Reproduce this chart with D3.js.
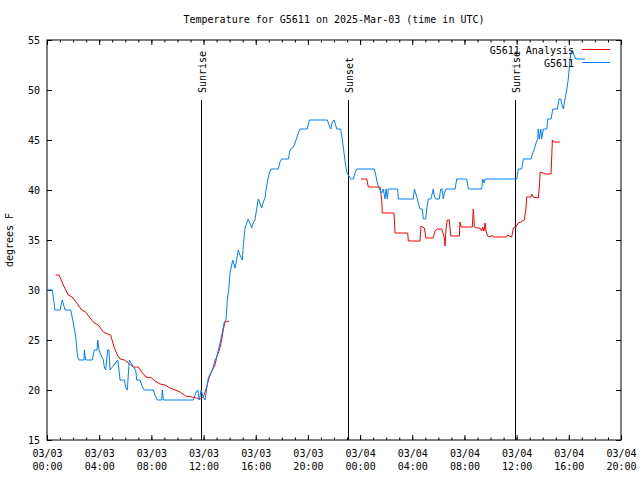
<!DOCTYPE html>
<html>
<head>
<meta charset="utf-8">
<script src="https://cdn.jsdelivr.net/npm/d3@7"></script>
<style>
  html, body { margin: 0; padding: 0; background: #fff; }
  svg { display: block; }
  text { font-family: "DejaVu Sans Mono", monospace; font-size: 10px; fill: #000; }
</style>
</head>
<body>
<svg id="chart" width="640" height="480"></svg>
<script>
// ---- data (hours since 2025-03-03 00:00 UTC, temperatures in °F) ----
const titleText = "Temperature for G5611 on 2025-Mar-03 (time in UTC)";
const yLabelText = "degrees F";
const yTickValues = [15, 20, 25, 30, 35, 40, 45, 50, 55];
const seriesNames = ["G5611 Analysis", "G5611"];

const analysisHours = [0.67,0.92,1.25,1.63,1.94,2.28,2.66,2.97,3.30,3.63,3.93,4.32,4.65,4.88,5.14,5.39,5.60,5.93,6.23,6.62,7.00,7.26,7.59,8.03,8.28,8.66,9.05,9.43,9.81,10.20,10.63,11.09,11.48,11.73,11.98,12.11,12.24,12.42,12.67,12.88,13.01,13.21,13.39,13.51,13.65,13.95,
  19.00,
  24.07,24.51,24.63,25.53,25.66,25.70,26.60,26.68,27.65,27.70,28.59,28.67,28.80,28.92,29.05,29.61,29.74,29.92,30.26,30.46,30.51,30.59,30.69,30.84,30.95,31.61,31.66,31.74,32.60,32.68,32.76,32.94,33.19,33.32,33.40,33.50,33.58,33.65,33.78,33.96,34.09,34.21,35.19,35.29,35.62,35.75,35.95,36.13,36.31,36.59,36.72,36.77,37.08,37.16,37.28,37.66,37.74,37.81,38.23,38.64,38.69,38.74,38.87,39.33];
const analysisTemps = [31.5,31.5,30.5,29.5,29.3,28.7,28.0,27.8,27.2,26.7,26.5,25.8,25.6,25.5,24.3,23.5,23.1,23.0,22.7,22.3,22.3,21.8,21.3,21.2,20.9,20.6,20.5,20.2,20.0,19.8,19.4,19.3,19.2,19.1,19.3,19.8,20.3,21.2,22.0,22.5,23.3,24.0,25.0,26.0,26.8,26.9,
  null,
  41.1,41.1,40.3,40.3,39.0,37.7,37.7,35.7,35.7,34.9,34.9,36.4,36.3,36.2,35.2,35.2,35.9,36.1,36.1,35.2,34.4,36.2,37.0,37.0,35.4,35.4,36.8,36.3,36.3,38.1,36.3,36.2,36.2,35.9,36.3,35.9,36.7,35.9,35.4,35.3,35.5,35.3,35.3,35.5,35.3,36.2,36.3,36.7,36.8,37.0,38.2,39.3,39.3,39.6,39.3,39.2,40.3,41.8,41.6,41.6,43.3,45.0,44.8,44.8];

const obsHours = [0.00,0.41,0.61,1.00,1.17,1.38,1.82,2.02,2.20,2.35,2.45,2.84,2.86,2.97,3.47,3.63,3.83,3.89,3.99,4.14,4.32,4.39,4.50,4.65,4.75,4.83,5.01,5.42,5.52,5.60,5.93,6.03,6.16,6.23,6.31,6.62,6.80,6.88,7.13,7.31,7.46,8.15,8.28,8.46,8.79,8.84,8.92,11.22,11.40,11.55,11.68,11.81,11.92,12.11,12.36,12.55,12.67,12.88,13.01,13.32,13.47,13.59,13.72,13.82,13.95,14.03,14.16,14.24,14.41,14.54,14.66,14.79,14.97,15.05,15.18,15.31,15.43,15.69,15.81,15.94,16.08,16.20,16.46,16.58,16.71,16.79,16.92,17.04,17.17,17.73,17.86,17.99,18.50,18.63,18.83,18.96,19.14,19.26,19.39,19.95,20.11,21.49,21.62,21.75,21.87,22.00,22.13,22.21,22.51,22.64,22.77,22.87,22.97,23.10,23.28,23.48,23.61,23.74,25.09,25.20,25.32,25.47,25.66,25.78,25.91,25.99,26.09,26.16,26.88,26.93,28.08,28.16,28.26,28.39,28.46,28.59,28.77,28.85,29.03,29.11,29.23,29.42,29.54,29.61,29.69,29.80,30.07,30.18,30.28,30.38,30.46,30.59,31.28,31.41,32.17,32.30,33.32,33.40,33.50,33.58,36.01,36.13,36.39,36.51,37.10,37.23,37.36,37.49,37.62,37.66,37.74,37.85,37.92,38.05,38.31,38.39,38.64,38.77,39.12,39.25,39.38,39.48,39.58,39.71,39.84,39.96,40.09,40.17,40.27,40.40,40.53,41.24];
const obsTemps = [30.0,30.0,28.0,28.0,29.0,28.0,28.0,26.7,25.3,23.3,23.0,23.0,24.0,23.0,23.0,24.0,24.0,25.0,24.0,23.5,23.0,22.3,22.0,24.0,24.0,22.0,22.3,23.0,22.0,21.0,21.0,20.3,20.0,21.5,23.0,22.3,22.0,21.0,21.0,20.3,20.0,20.0,19.5,19.0,19.0,20.0,19.0,19.0,19.7,20.0,19.0,20.0,19.5,19.0,21.2,21.7,22.0,23.0,23.3,25.0,26.0,26.8,27.0,29.0,30.3,31.7,32.5,33.0,32.2,33.0,34.0,33.5,33.0,34.5,36.2,36.7,37.1,36.2,36.7,37.0,38.2,39.1,38.2,38.8,39.2,40.0,41.0,41.7,42.1,42.1,42.8,43.1,43.1,44.0,44.2,44.5,45.2,45.7,46.1,46.1,47.0,47.0,46.5,46.1,46.8,47.0,46.5,46.1,46.1,45.0,43.7,42.7,41.8,41.5,41.1,41.1,41.7,42.1,42.1,41.5,40.7,40.1,39.7,40.1,39.1,40.1,39.1,40.1,40.1,39.1,39.1,40.1,39.7,39.1,38.7,38.1,38.1,37.1,37.1,38.1,39.1,39.1,39.7,40.1,39.4,39.1,39.1,40.1,40.1,39.1,39.7,40.1,40.1,41.1,41.1,40.1,40.1,41.1,40.7,41.1,41.1,42.1,42.1,43.1,43.1,43.7,44.1,44.7,45.1,46.1,45.1,46.1,45.1,46.1,46.1,47.1,47.1,48.1,48.1,49.1,49.1,48.5,48.1,49.1,50.0,51.1,53.0,53.7,54.0,53.5,53.1,53.1];

const sunHours = [11.81, 23.07, 35.87];
const sunLabels = ["Sunrise", "Sunset", "Sunrise"];

// ---- layout ----
const startMs = Date.UTC(2025, 2, 3, 0, 0);
const endMs = Date.UTC(2025, 2, 4, 20, 0);
const toDate = h => new Date(startMs + h * 3600e3);
const L = 47, R = 621, T = 40, B = 440;

const svg = d3.select("#chart");
const x = d3.scaleUtc().domain([new Date(startMs), new Date(endMs)]).range([L, R]);
const y = d3.scaleLinear().domain([15, 55]).range([B, T]);

const majorTicks = d3.utcHour.every(4).range(new Date(startMs), new Date(endMs + 1));
const minorTicks = d3.utcHour.every(1).range(new Date(startMs), new Date(endMs + 1));
const fmtDay = d3.utcFormat("%m/%d");
const fmtHour = d3.utcFormat("%H:%M");

function styleAxis(g) {
  g.select(".domain").remove();
  g.selectAll("line").attr("stroke", "#000").attr("stroke-width", 1);
}

// minor ticks (bottom & top)
svg.append("g").attr("transform", `translate(0,${B})`)
  .call(d3.axisBottom(x).tickValues(minorTicks).tickSize(-2.5).tickFormat(""))
  .call(styleAxis);
svg.append("g").attr("transform", `translate(0,${T})`)
  .call(d3.axisTop(x).tickValues(minorTicks).tickSize(-2.5).tickFormat(""))
  .call(styleAxis);

// major bottom axis with two-line labels
const xAxisG = svg.append("g").attr("transform", `translate(0,${B})`)
  .call(d3.axisBottom(x).tickValues(majorTicks).tickSize(-5).tickPadding(0).tickFormat(fmtDay))
  .call(styleAxis);
xAxisG.selectAll(".tick text").each(function(d) {
  const t = d3.select(this);
  t.text(null).attr("dy", null).attr("y", 0);
  t.append("tspan").attr("x", 0).attr("y", 17).text(fmtDay(d));
  t.append("tspan").attr("x", 0).attr("y", 30).text(fmtHour(d));
});
xAxisG.selectAll("text").style("font-family", "DejaVu Sans Mono, monospace").style("font-size", "10px");

// top mirror
svg.append("g").attr("transform", `translate(0,${T})`)
  .call(d3.axisTop(x).tickValues(majorTicks).tickSize(-5).tickFormat(""))
  .call(styleAxis);

// y axes
const yAxisG = svg.append("g").attr("transform", `translate(${L},0)`)
  .call(d3.axisLeft(y).tickValues(yTickValues).tickSize(-5).tickPadding(7).tickFormat(d3.format("d")))
  .call(styleAxis);
yAxisG.selectAll("text").style("font-family", "DejaVu Sans Mono, monospace").style("font-size", "10px");
svg.append("g").attr("transform", `translate(${R},0)`)
  .call(d3.axisRight(y).tickValues(yTickValues).tickSize(-5).tickFormat(""))
  .call(styleAxis);

// frame
svg.append("rect").attr("x", L).attr("y", T).attr("width", R - L).attr("height", B - T)
  .attr("fill", "none").attr("stroke", "#000").attr("stroke-width", 1);

// title and y label
svg.append("text").attr("x", (L + R) / 2).attr("y", 23).attr("text-anchor", "middle").text(titleText);
svg.append("text").attr("transform", `translate(13,${(T + B) / 2}) rotate(-90)`)
  .attr("text-anchor", "middle").text(yLabelText);

// sun lines
const sunTop = y(15 + 0.85 * 40);
sunHours.forEach((h, i) => {
  const sx = Math.round(x(toDate(h))) + 0.5;
  svg.append("line").attr("x1", sx).attr("x2", sx).attr("y1", sunTop).attr("y2", B)
    .attr("stroke", "#000").attr("stroke-width", 1);
  svg.append("text").attr("transform", `translate(${sx + 4},${sunTop - 7}) rotate(-90)`)
    .attr("text-anchor", "start").text(sunLabels[i]);
});

// data lines
const analysisData = analysisHours.map((h, i) => ({ t: toDate(h), v: analysisTemps[i] }));
const obsData = obsHours.map((h, i) => ({ t: toDate(h), v: obsTemps[i] }));
const line = d3.line().defined(d => d.v !== null).x(d => x(d.t)).y(d => y(d.v));

svg.append("path").datum(analysisData).attr("d", line)
  .attr("fill", "none").attr("stroke", "#ff0000").attr("stroke-width", 1);
svg.append("path").datum(obsData).attr("d", line)
  .attr("fill", "none").attr("stroke", "#0080ff").attr("stroke-width", 1);

// legend
const legendColors = ["#ff0000", "#0080ff"];
seriesNames.forEach((name, i) => {
  const ly = 49.5 + i * 13;
  svg.append("text").attr("x", 574).attr("y", ly + 4).attr("text-anchor", "end").text(name);
  svg.append("line").attr("x1", 582).attr("x2", 610).attr("y1", ly).attr("y2", ly)
    .attr("stroke", legendColors[i]).attr("stroke-width", 1);
});
</script>
</body>
</html>
